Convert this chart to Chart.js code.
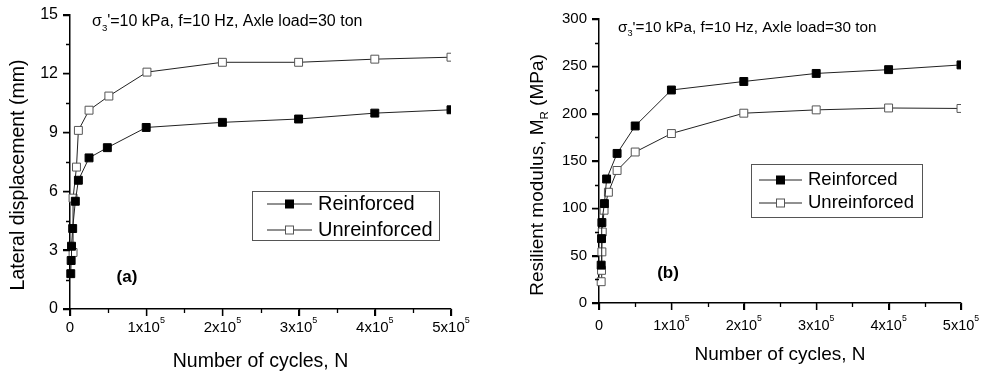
<!DOCTYPE html>
<html>
<head>
<meta charset="utf-8">
<script src="https://cdn.jsdelivr.net/npm/chart.js@4.4.1/dist/chart.umd.min.js"></script>
<style>
  body { margin: 0; background: #fff; }
  #dispChart { position: absolute; left: 0; top: 0; }
  #modChart { position: absolute; left: 490px; top: 0; }
</style>
</head>
<body>
<canvas id="dispChart" width="490" height="380"></canvas>
<canvas id="modChart" width="495" height="380"></canvas>
<script>
// (a) lateral displacement (mm) vs number of cycles
const dispReinfN   = [1000, 1500, 2000, 3500, 7000, 11000, 25000, 49000, 100000, 200000, 300000, 400000, 500000];
const dispReinf    = [1.8, 2.47, 3.2, 4.1, 5.49, 6.56, 7.7, 8.22, 9.25, 9.51, 9.68, 9.98, 10.15];
const dispUnreinfN = [4000, 4000, 8500, 11000, 25000, 51000, 101000, 200000, 300000, 400000, 500000];
const dispUnreinf  = [2.88, 5.65, 7.23, 9.1, 10.13, 10.85, 12.07, 12.57, 12.57, 12.73, 12.83];

// (b) resilient modulus (MPa) vs number of cycles
const modReinfN   = [3000, 3500, 4000, 7500, 10500, 25000, 50000, 100000, 200000, 300000, 400000, 500000];
const modReinf    = [40, 68, 85, 105, 131, 158, 187, 225, 234, 242.5, 246.5, 251.5];
const modUnreinfN = [3000, 3500, 4000, 4500, 7000, 13000, 25000, 50000, 100000, 200000, 300000, 400000, 500000];
const modUnreinf  = [22.5, 34.5, 54, 75, 98, 117, 140, 159.5, 179, 200.5, 204, 206, 205.5];

// axis ticks
const xMinorTicks = [50000, 150000, 250000, 350000, 450000];
const dispMinorTicks = [1.5, 4.5, 7.5, 10.5, 13.5];
const modMinorTicks = [25, 75, 125, 175, 225, 275];

const FONT = "'Liberation Sans', Arial, sans-serif";

function toPoints(xs, ys) {
    return xs.map((x, i) => ({ x: x, y: ys[i] }));
}

function fnt(size, weight) {
    return (weight || 'normal') + ' ' + size + 'px ' + FONT;
}

// draws text with optional sub/superscript parts: [[text, 'sub'|'sup'|''], ...]
function richText(ctx, parts, x, y, size, weight, align) {
    let w = 0;
    parts.forEach(p => {
        ctx.font = fnt(p[1] ? size * 0.6 : size, weight);
        w += ctx.measureText(p[0]).width;
    });
    let cx = align === 'center' ? x - w / 2 : x;
    ctx.textAlign = 'left';
    ctx.textBaseline = 'middle';
    parts.forEach(p => {
        const s = p[1] ? size * 0.6 : size;
        ctx.font = fnt(s, weight);
        let yy = y;
        if (p[1] === 'sub') yy = y + size * 0.38;
        if (p[1] === 'sup') yy = y - size * 0.5;
        ctx.fillText(p[0], cx, yy);
        cx += ctx.measureText(p[0]).width;
    });
}

function marker(ctx, x, y, half, fill, stroke) {
    ctx.fillStyle = fill;
    ctx.strokeStyle = stroke;
    ctx.lineWidth = 1;
    ctx.fillRect(x - half, y - half, half * 2, half * 2);
    ctx.strokeRect(x - half, y - half, half * 2, half * 2);
}

function decor(o) {
    return {
        id: 'decor',
        afterDraw(chart) {
            const ctx = chart.ctx;
            const xs = chart.scales.x, ys = chart.scales.y, area = chart.chartArea;
            ctx.save();

            // major + minor ticks, outward
            ctx.strokeStyle = '#000';
            ctx.lineWidth = 1.3;
            ctx.beginPath();
            xs.ticks.forEach(t => {
                const px = Math.round(xs.getPixelForValue(t.value)) + 0.5;
                ctx.moveTo(px, area.bottom);
                ctx.lineTo(px, area.bottom + 7);
            });
            ys.ticks.forEach(t => {
                const py = Math.round(ys.getPixelForValue(t.value)) + 0.5;
                ctx.moveTo(area.left, py);
                ctx.lineTo(area.left - 7, py);
            });
            o.minorX.forEach(v => {
                const px = Math.round(xs.getPixelForValue(v)) + 0.5;
                ctx.moveTo(px, area.bottom);
                ctx.lineTo(px, area.bottom + 4);
            });
            o.minorY.forEach(v => {
                const py = Math.round(ys.getPixelForValue(v)) + 0.5;
                ctx.moveTo(area.left, py);
                ctx.lineTo(area.left - 4, py);
            });
            ctx.stroke();

            // x tick labels with superscript exponent
            ctx.fillStyle = '#000';
            xs.ticks.forEach(t => {
                const px = xs.getPixelForValue(t.value);
                const parts = t.value === 0 ? [['0', '']] : [[(t.value / 100000) + 'x10', ''], ['5', 'sup']];
                richText(ctx, parts, px, area.bottom + o.xLabelOffset, o.xTickSize, 'normal', 'center');
            });

            // y title
            ctx.save();
            ctx.translate(o.yTitle.x, o.yTitle.y);
            ctx.rotate(-Math.PI / 2);
            richText(ctx, o.yTitle.parts, 0, 0, o.yTitle.size, 'normal', 'center');
            ctx.restore();

            // x title
            ctx.fillStyle = '#000';
            richText(ctx, [[o.xTitle.text, '']], o.xTitle.x, o.xTitle.y, o.xTitle.size, 'normal', 'center');

            // test conditions
            richText(ctx, [['\u03c3', ''], ['3', 'sub'], ["'=10 kPa, f=10 Hz, Axle load=30 ton", '']],
                o.note.x, o.note.y, o.note.size, 'normal', 'left');

            // panel tag
            richText(ctx, [[o.tag.text, '']], o.tag.x, o.tag.y, o.tag.size, 'bold', 'center');

            // legend
            const L = o.legend;
            ctx.strokeStyle = '#555';
            ctx.lineWidth = 1;
            ctx.strokeRect(L.x + 0.5, L.y + 0.5, L.w, L.h);
            chart.data.datasets.forEach((ds, i) => {
                const ry = L.rowY[i];
                ctx.strokeStyle = '#222';
                ctx.lineWidth = 1;
                ctx.beginPath();
                ctx.moveTo(L.lineX0, ry);
                ctx.lineTo(L.lineX1, ry);
                ctx.stroke();
                marker(ctx, (L.lineX0 + L.lineX1) / 2, ry, 4, ds.pointBackgroundColor, ds.pointBorderColor);
                ctx.fillStyle = '#000';
                richText(ctx, [[ds.label, '']], L.textX, ry, L.size, 'normal', 'left');
            });
            ctx.restore();
        }
    };
}

function makeChart(id, cfg) {
    const ctx = document.getElementById(id);
    new Chart(ctx, {
        type: 'line',
        data: {
            datasets: [{
                label: 'Reinforced',
                data: toPoints(cfg.reinfN, cfg.reinf),
                borderColor: '#222',
                borderWidth: 1,
                pointStyle: 'rect',
                pointRadius: 5.6,
                pointBackgroundColor: '#000',
                pointBorderColor: '#000',
                pointBorderWidth: 1,
                tension: 0,
                clip: { left: 8, top: 8, right: 0, bottom: 8 }
            }, {
                label: 'Unreinforced',
                data: toPoints(cfg.unreinfN, cfg.unreinf),
                borderColor: '#222',
                borderWidth: 1,
                pointStyle: 'rect',
                pointRadius: 5.6,
                pointBackgroundColor: '#fff',
                pointBorderColor: '#555',
                pointBorderWidth: 1,
                tension: 0,
                clip: { left: 8, top: 8, right: 0, bottom: 8 }
            }]
        },
        options: {
            responsive: false,
            animation: false,
            layout: { padding: cfg.padding },
            plugins: {
                legend: { display: false },
                tooltip: { enabled: false }
            },
            scales: {
                x: {
                    type: 'linear',
                    min: 0,
                    max: 500000,
                    afterFit: s => { s.height = cfg.xHeight; },
                    border: { color: '#000', width: 1.5 },
                    grid: { drawOnChartArea: false, color: '#000', lineWidth: 1.3, tickLength: 7 },
                    ticks: {
                        stepSize: 100000,
                        autoSkip: false,
                        maxRotation: 0,
                        padding: 4,
                        font: { family: FONT, size: 12 },
                        callback: () => ''
                    }
                },
                y: {
                    min: 0,
                    max: cfg.yMax,
                    afterFit: s => { s.width = cfg.yWidth; },
                    border: { color: '#000', width: 1.5 },
                    grid: { drawOnChartArea: false, color: '#000', lineWidth: 1.3, tickLength: 7 },
                    ticks: {
                        stepSize: cfg.yStep,
                        autoSkip: false,
                        padding: 5,
                        color: '#000',
                        font: { family: FONT, size: cfg.yTickSize }
                    }
                }
            }
        },
        plugins: [decor(cfg.decor)]
    });
}

makeChart('dispChart', {
    reinfN: dispReinfN, reinf: dispReinf,
    unreinfN: dispUnreinfN, unreinf: dispUnreinf,
    padding: { top: 11, right: 39, left: 0, bottom: 0 },
    xHeight: 71, yWidth: 70,
    yMax: 15, yStep: 3,
    yTickSize: 16,
    decor: {
        minorX: xMinorTicks, minorY: dispMinorTicks,
        xTickSize: 15, xLabelOffset: 19,
        yTitle: { parts: [['Lateral displacement (mm)', '']], x: 19, y: 175, size: 19.5 },
        xTitle: { text: 'Number of cycles, N', x: 260.5, y: 362, size: 19.5 },
        note: { x: 92, y: 22, size: 16 },
        tag: { text: '(a)', x: 127, y: 277, size: 17 },
        legend: { x: 252, y: 191, w: 187, h: 49, rowY: [204, 230], lineX0: 267, lineX1: 312, textX: 318, size: 20 }
    }
});

makeChart('modChart', {
    reinfN: modReinfN, reinf: modReinf,
    unreinfN: modUnreinfN, unreinf: modUnreinf,
    padding: { top: 19, right: 24, left: 0, bottom: 0 },
    xHeight: 77, yWidth: 109,
    yMax: 300, yStep: 50,
    yTickSize: 15,
    decor: {
        minorX: xMinorTicks, minorY: modMinorTicks,
        xTickSize: 14.5, xLabelOffset: 23,
        yTitle: { parts: [['Resilient modulus, M', ''], ['R', 'sub'], [' (MPa)', '']], x: 48, y: 175, size: 19 },
        xTitle: { text: 'Number of cycles, N', x: 290, y: 355, size: 19 },
        note: { x: 128, y: 28, size: 15.3 },
        tag: { text: '(b)', x: 178, y: 273, size: 17 },
        legend: { x: 261, y: 164, w: 171, h: 53, rowY: [180, 203], lineX0: 269, lineX1: 312, textX: 318, size: 18.5 }
    }
});
</script>
</body>
</html>
